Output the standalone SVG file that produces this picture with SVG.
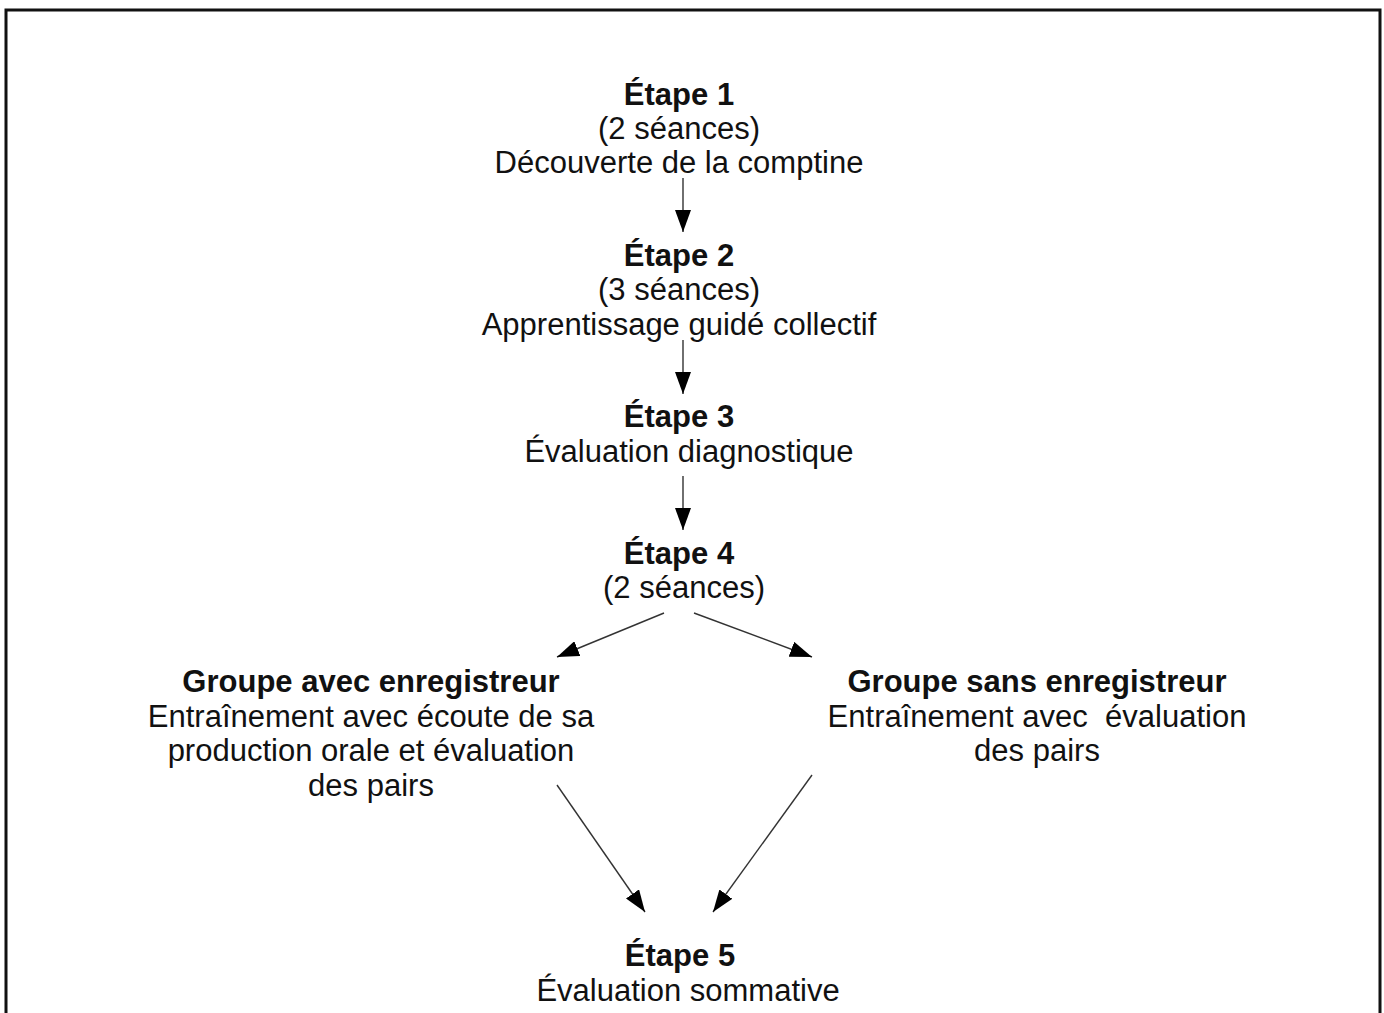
<svg xmlns="http://www.w3.org/2000/svg" width="1384" height="1013" viewBox="0 0 1384 1013">
<style>
text{font-family:"Liberation Sans",Arial,sans-serif;font-size:31px;fill:#111;text-anchor:middle;white-space:pre}
.b{font-weight:bold}
.c line{stroke:#333;stroke-width:1.4;marker-end:url(#ah)}
</style>
<defs>
<marker id="ah" viewBox="0 0 22 16" refX="22" refY="8" markerWidth="22" markerHeight="16" markerUnits="userSpaceOnUse" orient="auto">
<path d="M0,0 L22,8 L0,16 z" fill="#000"/>
</marker>
</defs>
<rect width="1384" height="1013" fill="#fff"/>
<path d="M6,1013 V10 H1380 V1013" fill="none" stroke="#111" stroke-width="3"/>
<g id="etape1">
<text class="b" x="679" y="105">Étape 1</text>
<text x="679" y="139">(2 séances)</text>
<text x="679" y="173">Découverte de la comptine</text>
</g>
<g id="etape2">
<text class="b" x="679" y="266">Étape 2</text>
<text x="679" y="300">(3 séances)</text>
<text x="679" y="335">Apprentissage guidé collectif</text>
</g>
<g id="etape3">
<text class="b" x="679" y="427">Étape 3</text>
<text x="689" y="462">Évaluation diagnostique</text>
</g>
<g id="etape4">
<text class="b" x="679" y="564">Étape 4</text>
<text x="684" y="598">(2 séances)</text>
</g>
<g id="groupe-avec">
<text class="b" x="371" y="692">Groupe avec enregistreur</text>
<text x="371" y="727">Entraînement avec écoute de sa</text>
<text x="371" y="761">production orale et évaluation</text>
<text x="371" y="796">des pairs</text>
</g>
<g id="groupe-sans">
<text class="b" x="1037" y="692">Groupe sans enregistreur</text>
<text x="1037" y="727">Entraînement avec  évaluation</text>
<text x="1037" y="761">des pairs</text>
</g>
<g id="etape5">
<text class="b" x="680" y="966">Étape 5</text>
<text x="688" y="1001">Évaluation sommative</text>
</g>
<g class="c" id="connectors">
<line x1="683" y1="178" x2="683" y2="232"/>
<line x1="683" y1="340" x2="683" y2="394"/>
<line x1="683" y1="476" x2="683" y2="530"/>
<line x1="664" y1="613" x2="557" y2="657"/>
<line x1="694" y1="613" x2="812" y2="657"/>
<line x1="557" y1="785" x2="645" y2="912"/>
<line x1="812" y1="775" x2="713" y2="912"/>
</g>
</svg>
